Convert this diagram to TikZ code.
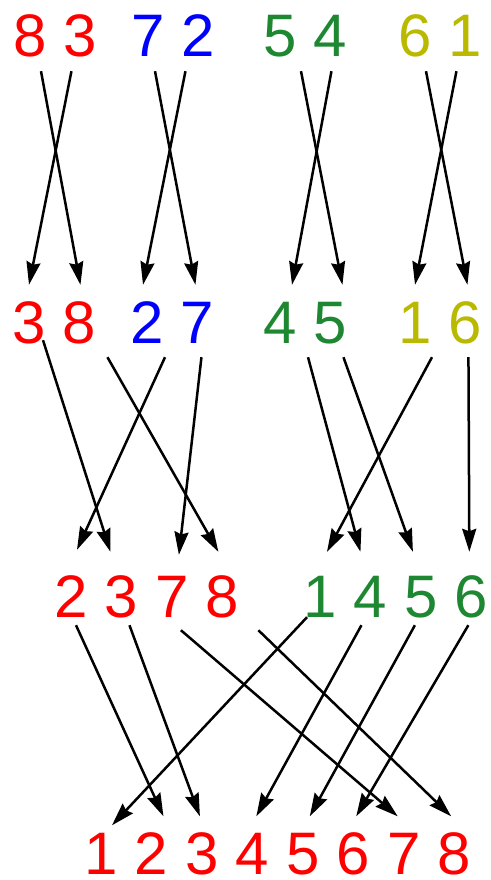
\documentclass[tikz,border=0pt]{standalone}
\usepackage{fontspec}
\setmainfont{Liberation Sans}
\usetikzlibrary{arrows.meta,positioning}
\definecolor{pred}{RGB}{255,0,0}
\definecolor{pblue}{RGB}{0,0,255}
\definecolor{pgreen}{RGB}{30,135,50}
\definecolor{pyellow}{RGB}{185,185,0}

\begin{document}
\begin{tikzpicture}[x=1pt,y=-1pt,node distance=16.68pt,
    digit/.style={inner sep=0pt,text height=43pt,text depth=0pt,font=\fontsize{60}{60}\selectfont},
    arr/.style={draw,line width=2.5pt,-{Stealth[length=23pt,width=14pt,inset=2.5pt]}}]

            \useasboundingbox (0,0) rectangle (490,880);

            % first row
            \node[digit,pred] (a8) at (30,35.5) {8};
            \node[digit,pred] (a3) [right=of a8] {3};
            \node[digit,pblue] (a7) at (148,35.5) {7};
            \node[digit,pblue] (a2) [right=of a7] {2};
            \node[digit,pgreen] (a5) at (280,35.5) {5};
            \node[digit,pgreen] (a4) [right=of a5] {4};
            \node[digit,pyellow] (a6) at (415,35.5) {6};
            \node[digit,pyellow] (a1) [right=of a6] {1};

            % second row
            \node[digit,pred] (b3) at (29,321.5) {3};
            \node[digit,pred] (b8) [right=of b3] {8};
            \node[digit,pblue] (b2) at (147,321.5) {2};
            \node[digit,pblue] (b7) [right=of b2] {7};
            \node[digit,pgreen] (b4) at (280,321.5) {4};
            \node[digit,pgreen] (b5) [right=of b4] {5};
            \node[digit,pyellow] (b1) at (415,321.5) {1};
            \node[digit,pyellow] (b6) [right=of b1] {6};

            % third row
            \node[digit,pred] (c2) at (71,595.5) {2};
            \node[digit,pred] (c3) [right=of c2] {3};
            \node[digit,pred] (c7) [right=of c3] {7};
            \node[digit,pred] (c8) [right=of c7] {8};
            \node[digit,pgreen] (c1) at (320,595.5) {1};
            \node[digit,pgreen] (c4) [right=of c1] {4};
            \node[digit,pgreen] (c5) [right=of c4] {5};
            \node[digit,pgreen] (c6) [right=of c5] {6};

            % last row
            \node[digit,pred] (d1) at (101,853) {1};
            \node[digit,pred] (d2) [right=of d1] {2};
            \node[digit,pred] (d3) [right=of d2] {3};
            \node[digit,pred] (d4) [right=of d3] {4};
            \node[digit,pred] (d5) [right=of d4] {5};
            \node[digit,pred] (d6) [right=of d5] {6};
            \node[digit,pred] (d7) [right=of d6] {7};
            \node[digit,pred] (d8) [right=of d7] {8};

            \draw[arr] ([shift={(11,14)}]a8.south) -- ([shift={(1,-15)}]b8.north);
            \draw[arr] ([shift={(-9,14)}]a3.south) -- ([shift={(0,-15)}]b3.north);
            \draw[arr] ([shift={(7,14)}]a7.south) -- ([shift={(-2,-15)}]b7.north);
            \draw[arr] ([shift={(-13,14)}]a2.south) -- ([shift={(-4,-15)}]b2.north);
            \draw[arr] ([shift={(21,14)}]a5.south) -- ([shift={(12,-15)}]b5.north);
            \draw[arr] ([shift={(1,14)}]a4.south) -- ([shift={(12,-15)}]b4.north);
            \draw[arr] ([shift={(11,14)}]a6.south) -- ([shift={(2,-15)}]b6.north);
            \draw[arr] ([shift={(-9,14)}]a1.south) -- ([shift={(0,-15)}]b1.north);

            \draw[arr] ([shift={(14,-3)}]b3.south) -- ([shift={(-11,-22)}]c3.north);
            \draw[arr] ([shift={(28,14)}]b8.south) -- ([shift={(-4,-22)}]c8.north);
            \draw[arr] ([shift={(18,14)}]b2.south) -- ([shift={(6,-24)}]c2.north);
            \draw[arr] ([shift={(4,14)}]b7.south) -- ([shift={(7,-19)}]c7.north);
            \draw[arr] ([shift={(28,14)}]b4.south) -- ([shift={(-10,-22)}]c4.north);
            \draw[arr] ([shift={(13,14)}]b5.south) -- ([shift={(-8,-22)}]c5.north);
            \draw[arr] ([shift={(17,14)}]b1.south) -- ([shift={(7,-22)}]c1.north);
            \draw[arr] ([shift={(3,14)}]b6.south) -- ([shift={(-2,-22)}]c6.north);

            \draw[arr] ([shift={(5,8)}]c2.south) -- ([shift={(12,-15)}]d2.north);
            \draw[arr] ([shift={(8,8)}]c3.south) -- ([shift={(-2,-15)}]d3.north);
            \draw[arr] ([shift={(9,13)}]c7.south) -- ([shift={(-6,-15)}]d7.north);
            \draw[arr] ([shift={(36,13)}]c8.south) -- ([shift={(-3,-15)}]d8.north);
            \draw[arr] ([shift={(-13,0)}]c1.south) -- ([shift={(11,-6)}]d1.north);
            \draw[arr] ([shift={(-9,8)}]c4.south) -- ([shift={(4,-15)}]d4.north);
            \draw[arr] ([shift={(-6,8)}]c5.south) -- ([shift={(7,-15)}]d5.north);
            \draw[arr] ([shift={(-3,8)}]c6.south) -- ([shift={(3,-15)}]d6.north);

\end{tikzpicture}
\end{document}
